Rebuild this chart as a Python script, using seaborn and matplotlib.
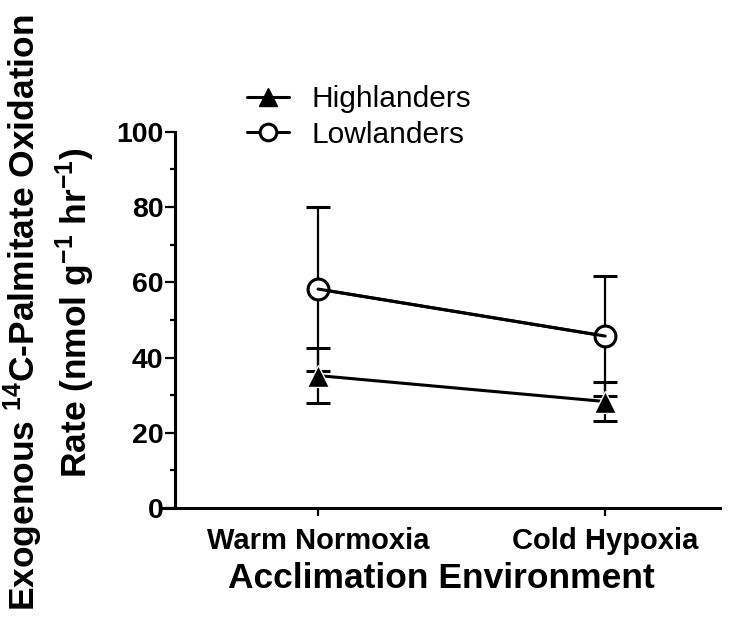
import numpy as np
import pandas as pd
import seaborn as sns
import matplotlib.pyplot as plt
from matplotlib.lines import Line2D
from matplotlib.ticker import MultipleLocator

sns.set_style("ticks")
plt.rcParams['font.family'] = ['Liberation Sans', 'DejaVu Sans']
plt.rcParams['mathtext.fontset'] = 'custom'
plt.rcParams['mathtext.rm'] = 'Liberation Sans:bold'
plt.rcParams['mathtext.bf'] = 'Liberation Sans:bold'
plt.rcParams['mathtext.default'] = 'rm'
for key in ['text.color', 'axes.labelcolor', 'xtick.color', 'ytick.color', 'axes.edgecolor']:
    plt.rcParams[key] = 'black'

# data (mean +/- SD)
environments = ["Warm Normoxia", "Cold Hypoxia"]
groups = ["Highlanders", "Lowlanders"]
highlander_mean = [35.2, 28.3]
highlander_sd = [7.3, 5.1]
lowlander_mean = [58.2, 45.7]
lowlander_sd = [21.7, 15.9]

pos = np.arange(len(environments))
df = pd.DataFrame({
    "pos": np.concatenate([pos, pos]),
    "group": np.repeat(groups, len(environments)),
    "rate": highlander_mean + lowlander_mean,
    "sd": highlander_sd + lowlander_sd,
})

fig = plt.figure(figsize=(7.4, 6.27), dpi=100)
ax = fig.add_axes([0.2203, 0.1898, 0.7527, 0.600])

for g in groups:
    sub = df[df["group"] == g]
    ax.errorbar(sub["pos"], sub["rate"], yerr=sub["sd"], fmt='none', ecolor='black',
                elinewidth=1.6, capsize=8.5, capthick=2.2, zorder=1, clip_on=False)

sns.lineplot(data=df, x="pos", y="rate", hue="group", style="group",
             markers={"Highlanders": "^", "Lowlanders": "o"}, dashes=False,
             palette={"Highlanders": "black", "Lowlanders": "black"},
             linewidth=2.2, markersize=15, markeredgewidth=2.2,
             legend=False, ax=ax, zorder=2, clip_on=False)

for ln in ax.lines:
    if ln.get_marker() == 'o':
        ln.set_markerfacecolor('white')
        ln.set_markeredgecolor('black')
    elif ln.get_marker() == '^':
        ln.set_markersize(15.5)
        ln.set_markeredgewidth(1)

# connecting line runs into the open circles, as in the original
low = df[df["group"] == "Lowlanders"]
sns.lineplot(data=low, x="pos", y="rate", color='black', linewidth=2.2, ax=ax,
             zorder=3, legend=False)

ax.set_xlim(-0.54, 1.40)
ax.set_ylim(0, 100)
ax.set_xticks(pos)
ax.set_xticklabels(environments)
ax.yaxis.set_major_locator(MultipleLocator(20))
ax.yaxis.set_minor_locator(MultipleLocator(10))
ax.set_xlabel("")

sns.despine(ax=ax)
ax.spines['left'].set_position(('data', -0.5))
ax.spines['bottom'].set_bounds(-0.54, 1.40)
for s in ['left', 'bottom']:
    ax.spines[s].set_linewidth(2.2)

ax.tick_params(axis='y', which='major', length=7, width=1.6, pad=1, labelsize=20.5)
ax.tick_params(axis='y', which='minor', length=3.8, width=1.6)
ax.tick_params(axis='x', length=6, width=1.6, pad=8, labelsize=21)
for lab in ax.get_xticklabels() + ax.get_yticklabels():
    lab.set_fontweight('bold')

ax.set_xlabel("Acclimation Environment", fontsize=25.5, fontweight='bold', labelpad=5)
ax.set_ylabel("Exogenous $^{14}$C-Palmitate Oxidation\nRate (nmol g$^{-1}$ hr$^{-1}$)",
              fontsize=25.5, fontweight='bold', linespacing=1.25)
ax.yaxis.set_label_coords(-0.118, 0.52)

handles = [
    Line2D([], [], color='black', lw=2.2, marker='^', markersize=13, markeredgewidth=1),
    Line2D([], [], color='black', lw=2.2, marker='o', markersize=12,
           markerfacecolor='white', markeredgewidth=2.2),
]
fig.legend(handles, groups, loc='upper left', bbox_to_anchor=(0.334, 0.864),
           frameon=False, fontsize=21.5, handlelength=1.4, handletextpad=0.75,
           labelspacing=0.25, borderpad=0, borderaxespad=0)

fig.savefig("out.png", dpi=100)
